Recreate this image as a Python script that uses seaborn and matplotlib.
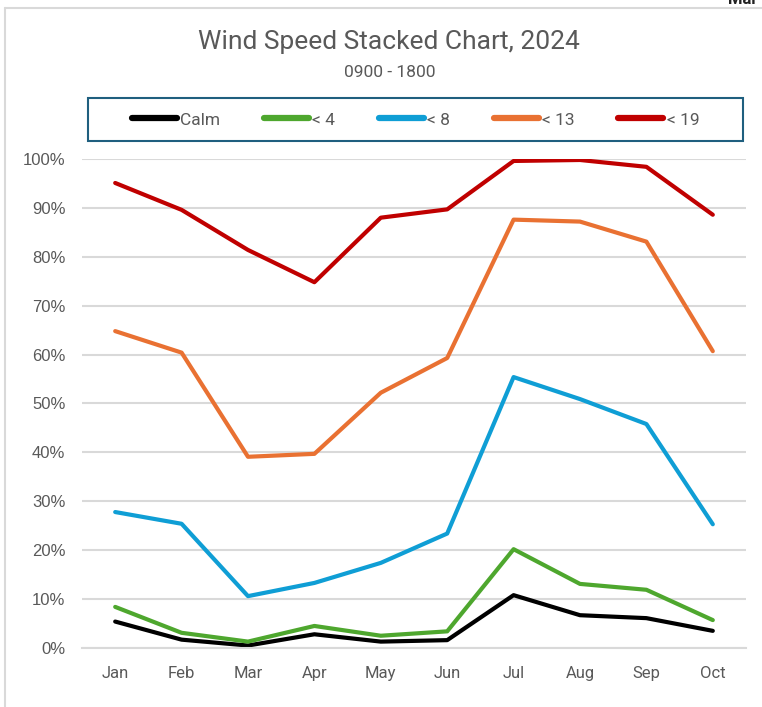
import pandas as pd
import matplotlib.pyplot as plt
import seaborn as sns
from matplotlib.patches import Rectangle
from matplotlib.ticker import PercentFormatter, FixedLocator

months = ['Jan', 'Feb', 'Mar', 'Apr', 'May', 'Jun', 'Jul', 'Aug', 'Sep', 'Oct']
calm = [5.4, 1.7, 0.5, 2.8, 1.3, 1.6, 10.8, 6.7, 6.1, 3.5]
lt4 = [8.4, 3.1, 1.3, 4.5, 2.5, 3.4, 20.2, 13.1, 11.9, 5.7]
lt8 = [27.8, 25.4, 10.6, 13.3, 17.4, 23.4, 55.4, 50.9, 45.8, 25.3]
lt13 = [64.8, 60.4, 39.1, 39.7, 52.2, 59.3, 87.6, 87.2, 83.1, 60.7]
lt19 = [95.1, 89.6, 81.4, 74.8, 88.0, 89.7, 99.6, 99.8, 98.4, 88.6]
series_names = ['Calm', '< 4', '< 8', '< 13', '< 19']
colors = ['#000000', '#4EA72E', '#0F9ED5', '#E97132', '#C00000']

df = pd.DataFrame({'Month': months, 'Calm': calm, '< 4': lt4, '< 8': lt8,
                   '< 13': lt13, '< 19': lt19})
long = df.melt(id_vars='Month', var_name='Band', value_name='Pct')
long['Pct'] = long['Pct'] / 100

sns.set_theme(style='white')
plt.rcParams['font.family'] = ['Roboto', 'DejaVu Sans']

fig = plt.figure(figsize=(7.62, 7.07), dpi=100)
ax = fig.add_axes([0.1076, 0.0835, 0.8714, 0.6916])

sns.lineplot(data=long, x='Month', y='Pct', hue='Band', hue_order=series_names,
             palette=colors, linewidth=3, ax=ax, sort=False, legend=True)

ax.set_xlim(-0.5, len(months) - 0.5)
ax.set_ylim(0, 1.0)
ax.yaxis.set_major_locator(FixedLocator([i / 10 for i in range(11)]))
ax.yaxis.set_major_formatter(PercentFormatter(1.0, decimals=0))
ax.grid(axis='y', color='#D9D9D9', linewidth=1.5)
ax.set_axisbelow(True)
for s in ['top', 'right', 'left']:
    ax.spines[s].set_visible(False)
ax.spines['bottom'].set_color('#D9D9D9')
ax.spines['bottom'].set_linewidth(1.5)
ax.set_xlabel('')
ax.set_ylabel('')

ax.set_xticks(range(len(months)))
ax.set_xticks([i - 0.5 for i in range(len(months) + 1)], minor=True)
ax.tick_params(axis='x', which='major', length=0, pad=13, labelsize=12, labelcolor='#595959')
ax.tick_params(axis='x', which='minor', length=10, width=1.2, color='#D9D9D9', direction='out')
ax.tick_params(axis='y', length=0, pad=12, labelcolor='#595959')
for lab in ax.get_yticklabels():
    lab.set_fontfamily(['Liberation Sans', 'DejaVu Sans'])
    lab.set_fontsize(12)

ax.get_legend().remove()
handles, labels = ax.get_legend_handles_labels()
leg = fig.legend(handles, labels, loc='center', ncol=5,
                 bbox_to_anchor=(0.5453, 0.8303), fontsize=12.5,
                 frameon=False, handlelength=2.6, handletextpad=0.2,
                 columnspacing=2.5, labelcolor='#595959')
for line in leg.get_lines():
    line.set_linewidth(4.5)
    line.set_solid_capstyle('round')
fig.add_artist(Rectangle((0.1155, 0.8006), 0.8596, 0.0608, transform=fig.transFigure,
                         fill=False, edgecolor='#1F5F7F', linewidth=1.5))

fig.text(0.511, 0.9406, 'Wind Speed Stacked Chart, 2024', ha='center', va='center',
         fontsize=19, color='#595959')
fig.text(0.511, 0.898, '0900 - 1800', ha='center', va='center', fontsize=12.5, color='#595959')
fig.text(0.955, 1.0, 'Mar', ha='left', va='center', fontsize=12, fontweight='bold', color='#222222')

# chart area frame (left and top edges visible)
fig.add_artist(plt.Line2D([0.0066, 0.0066], [0.0, 0.989], color='#D9D9D9', linewidth=1.5,
                          transform=fig.transFigure))
fig.add_artist(plt.Line2D([0.0066, 1.0], [0.989, 0.989], color='#D9D9D9', linewidth=1.5,
                          transform=fig.transFigure))

fig.savefig('out.png', dpi=100)
